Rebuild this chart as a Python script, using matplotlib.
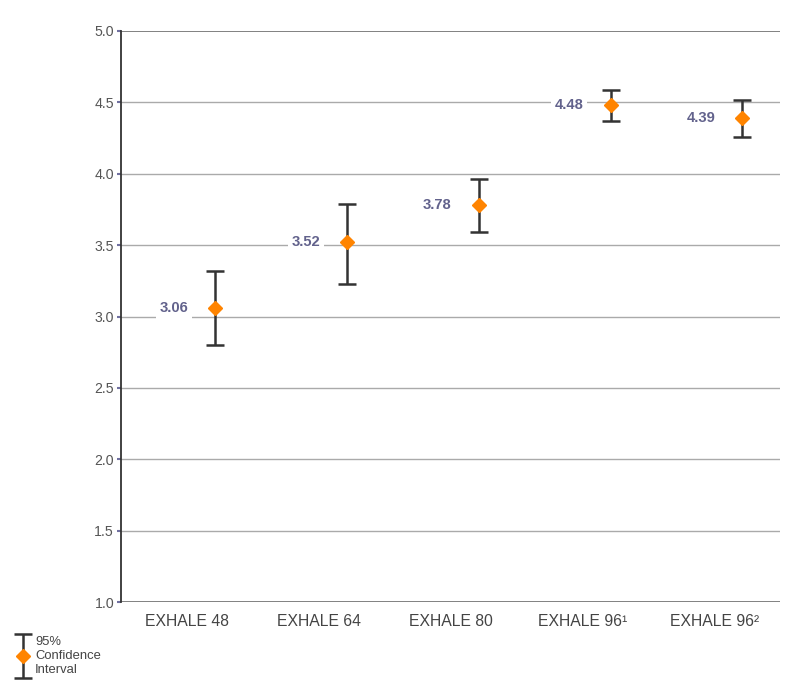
import matplotlib
matplotlib.use("Agg")
import matplotlib.pyplot as plt
import numpy as np
from matplotlib.container import ErrorbarContainer
from matplotlib.legend_handler import HandlerErrorbar

plt.rcParams['font.family'] = ['Liberation Sans', 'DejaVu Sans']

categories = ["EXHALE 48", "EXHALE 64", "EXHALE 80", "EXHALE 96\u00b9", "EXHALE 96\u00b2"]
values = [3.06, 3.52, 3.78, 4.48, 4.39]
ci_low = [2.80, 3.23, 3.59, 4.37, 4.26]
ci_high = [3.32, 3.79, 3.96, 4.59, 4.52]
y_ticks = [1.0, 1.5, 2.0, 2.5, 3.0, 3.5, 4.0, 4.5, 5.0]
legend_label = "95%\nConfidence\nInterval"

vals = np.array(values)
lo = np.array(ci_low)
hi = np.array(ci_high)
xpos = np.arange(len(categories))
offset = 0.215

fig = plt.figure(figsize=(8, 6.9), dpi=100)
ax = fig.add_axes([121/800, 1-602/690, (780-121)/800, (602-31)/690])

for t in y_ticks:
    if t in (y_ticks[0], y_ticks[-1]):
        ax.axhline(t, color='#777777', lw=1.3, zorder=1)
    else:
        ax.axhline(t, color='#aaaaaa', lw=1.0, zorder=1)

eb = ax.errorbar(xpos + offset, vals, yerr=[vals - lo, hi - vals], fmt='D',
                 color='#333333', ecolor='#333333', elinewidth=1.8, capsize=6.5,
                 capthick=1.8, mfc='#ff8400', mec='#ff8400', ms=7.2, zorder=3)

for x, v in zip(xpos + offset, vals):
    ax.annotate(f"{v:.2f}", (x, v), xytext=(-27, 0), textcoords='offset pixels',
                ha='right', va='center', fontsize=10.6, fontweight='bold',
                color='#62628c', zorder=4,
                bbox=dict(boxstyle='square,pad=0.25', fc='white', ec='none'))

ax.set_xlim(-0.5, len(categories) - 0.5)
ax.set_ylim(1.0, 5.0)
ax.set_yticks(y_ticks)
ax.set_yticklabels([f"{t:.1f}" for t in y_ticks])
ax.set_xticks(xpos)
ax.set_xticklabels(categories)
ax.tick_params(axis='y', length=3, width=1.5, color='#7070a0', labelsize=10.2,
               labelcolor='#555555', pad=2)
ax.tick_params(axis='x', length=0, labelsize=11.3, labelcolor='#444444', pad=9)
for s in ['top', 'right', 'bottom']:
    ax.spines[s].set_visible(False)
ax.spines['left'].set_color('#333333')
ax.spines['left'].set_linewidth(1.3)

leg = fig.legend([eb], [legend_label], loc='lower left',
                 bbox_to_anchor=(0.008, 0.007), frameon=False,
                 fontsize=9.4, labelcolor='#444444', handlelength=1.2,
                 handletextpad=0.3, borderpad=0.2, labelspacing=0.15,
                 handler_map={ErrorbarContainer: HandlerErrorbar(xerr_size=0.5, yerr_size=1.7)})

fig.savefig("out.png", dpi=100)
